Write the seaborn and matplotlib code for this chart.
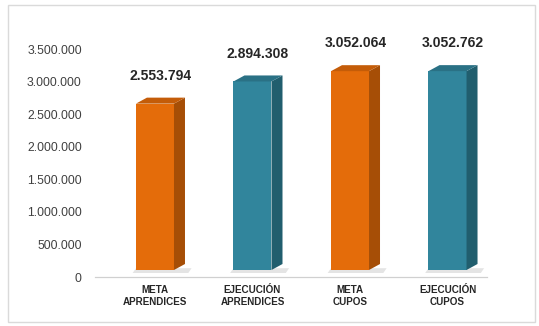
import matplotlib
matplotlib.use("Agg")
import matplotlib.pyplot as plt
import seaborn as sns
import pandas as pd
from matplotlib.patches import Polygon, Rectangle
from matplotlib.transforms import Affine2D

# ---- data ----
categories = ["META\nAPRENDICES", "EJECUCIÓN\nAPRENDICES", "META\nCUPOS", "EJECUCIÓN\nCUPOS"]
values = [2553794, 2894308, 3052064, 3052762]
value_labels = ["2.553.794", "2.894.308", "3.052.064", "3.052.762"]
yticks = [0, 500000, 1000000, 1500000, 2000000, 2500000, 3000000, 3500000]
ytick_labels = ["0", "500.000", "1.000.000", "1.500.000", "2.000.000",
                "2.500.000", "3.000.000", "3.500.000"]

# ---- styles ----
front_colors = ["#E46C0A", "#31859C", "#E46C0A", "#31859C"]
side_colors = ["#A64E06", "#215E6E", "#A64E06", "#215E6E"]
top_colors = ["#C45C08", "#2A7185", "#C45C08", "#2A7185"]

sns.set_style("white")
plt.rcParams["font.family"] = ["Liberation Sans", "DejaVu Sans"]

W, H = 539, 326
fig = plt.figure(figsize=(W / 100, H / 100), dpi=100)
ax_left, ax_right, ax_bottom, ax_top = 95, 487, 277, 49
ax = fig.add_axes([ax_left / W, 1 - ax_bottom / H, (ax_right - ax_left) / W, (ax_bottom - ax_top) / H])

df = pd.DataFrame({"cat": categories, "val": values})
sns.barplot(data=df, x="cat", y="val", hue="cat", palette=front_colors,
            width=0.39, saturation=1, legend=False, ax=ax, zorder=3)

ax.set_xlim(-0.615, 3.405)
ax.set_ylim(0, 3500000)

# pixel -> data conversion for 3D depth
px_per_x = (ax_right - ax_left) / (3.405 + 0.615)
px_per_y = (ax_bottom - ax_top) / 3500000
dx = 11 / px_per_x
dy = 6 / px_per_y
shift = ax.transData + Affine2D().translate(0, 7)

for i, p in enumerate(ax.patches):
    x0 = p.get_x()
    w = p.get_width()
    h = p.get_height()
    p.set_transform(shift)
    p.set_edgecolor("none")
    side = Polygon([(x0 + w, 0), (x0 + w + dx, dy), (x0 + w + dx, h + dy), (x0 + w, h)],
                   closed=True, facecolor=side_colors[i], edgecolor="none",
                   transform=shift, zorder=3, clip_on=False)
    top = Polygon([(x0, h), (x0 + dx, h + dy), (x0 + w + dx, h + dy), (x0 + w, h)],
                  closed=True, facecolor=top_colors[i], edgecolor="none",
                  transform=shift, zorder=3, clip_on=False)
    shadow = Polygon([(x0 - dx * 0.3, 0), (x0 + w + dx * 1.3, 0),
                      (x0 + w + dx * 1.6, dy * 0.8), (x0, dy * 0.8)],
                     closed=True, facecolor="#E4E4E4", edgecolor="none",
                     transform=ax.transData + Affine2D().translate(0, 4), zorder=2, clip_on=False)
    ax.add_patch(shadow)
    ax.add_patch(side)
    ax.add_patch(top)
    ax.annotate(value_labels[i], xy=(x0 + w / 2 + dx / 2, h), xytext=(0, 25),
                textcoords="offset points", ha="center", va="center",
                fontsize=10, fontweight="bold", color="#262626", annotation_clip=False)

ax.set_yticks(yticks)
ax.set_yticklabels(ytick_labels, fontsize=8.8, color="#404040")
ax.set_xticks(range(len(categories)))
ax.set_xticklabels(categories, fontsize=7.1, fontweight="bold", color="#262626",
                   linespacing=1.25)
ax.tick_params(axis="y", length=0, pad=9.5)
ax.tick_params(axis="x", length=0, pad=6)
ax.set_xlabel("")
ax.set_ylabel("")
for s in ["top", "right", "left"]:
    ax.spines[s].set_visible(False)
ax.spines["bottom"].set_color("#D0D0D0")
ax.spines["bottom"].set_linewidth(0.9)
ax.grid(False)

fig.patches.append(Rectangle((8 / W, 1 - 322 / H), (535 - 8) / W, (322 - 5) / H,
                             transform=fig.transFigure, fill=False,
                             edgecolor="#DADADA", linewidth=1))

fig.savefig("out.png", dpi=100)
